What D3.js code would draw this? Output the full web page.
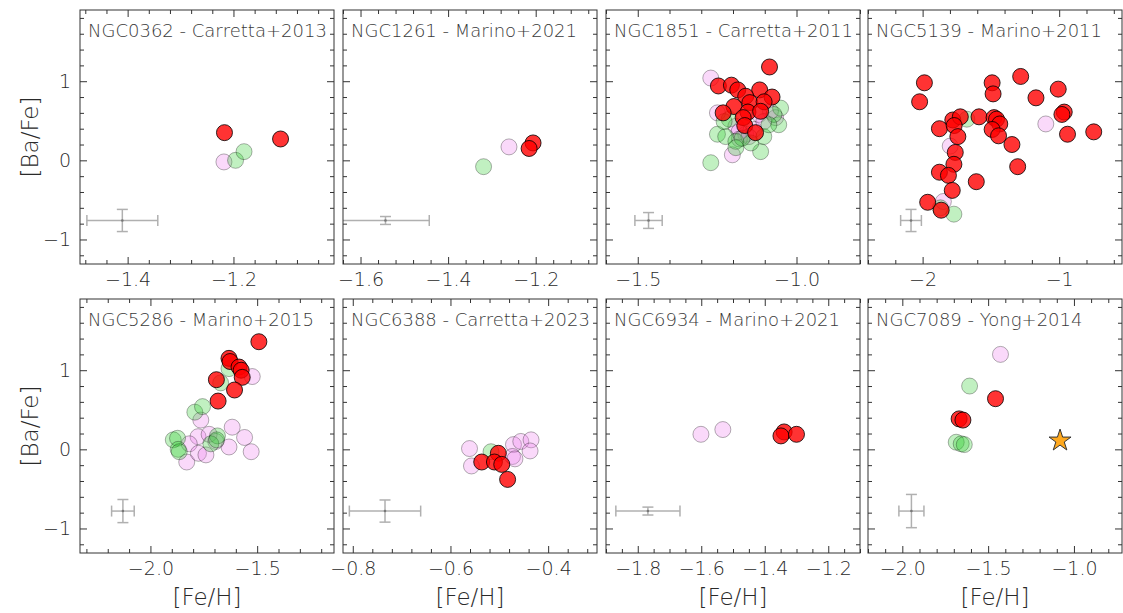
<!DOCTYPE html>
<html>
<head>
<meta charset="utf-8">
<script src="https://cdn.jsdelivr.net/npm/d3@7"></script>
<style>
  body { margin: 0; background: #fff; }
  svg { font-family: "DejaVu Sans", sans-serif; }
</style>
</head>
<body>
<svg id="chart" width="1123" height="613"></svg>
<script>
// panel titles
const titles = ["NGC0362 - Carretta+2013", "NGC1261 - Marino+2021", "NGC1851 - Carretta+2011", "NGC5139 - Marino+2011",
                "NGC5286 - Marino+2015", "NGC6388 - Carretta+2023", "NGC6934 - Marino+2021", "NGC7089 - Yong+2014"];

// x limits, major / minor steps, label decimals per panel
const xLimits = [[-1.49, -1.01], [-1.64, -1.06], [-1.60, -0.80], [-2.40, -0.54],
                 [-2.33, -1.14], [-0.82, -0.30], [-1.90, -1.10], [-2.20, -0.72]];
const xMajor = [0.2, 0.2, 0.5, 1, 0.5, 0.2, 0.2, 0.5];
const xMinor = [0.04, 0.04, 0.1, 0.2, 0.1, 0.04, 0.05, 0.1];
const xDecimals = [1, 1, 1, 0, 1, 1, 1, 1];

// typical error bar per panel: [x, y, xerr, yerr]
const errBars = [[-1.41, -0.76, 0.067, 0.14], [-1.543, -0.76, 0.10, 0.05], [-1.466, -0.76, 0.043, 0.10], [-2.085, -0.76, 0.076, 0.14],
                 [-2.129, -0.78, 0.053, 0.146], [-0.734, -0.78, 0.073, 0.14], [-1.768, -0.78, 0.101, 0.05], [-1.947, -0.78, 0.073, 0.21]];

// [Fe/H], [Ba/Fe] per population
const pinkPts = [
  [[-1.218, -0.02]],
  [[-1.261, 0.17]],
  [[-1.270, 1.04], [-1.249, 0.60], [-1.202, 0.07], [-1.160, 0.33], [-1.066, 0.54], [-1.082, 0.62], [-1.191, 0.43],
   [-1.134, 0.39], [-1.181, 0.36], [-1.118, 0.58], [-1.103, 0.49], [-1.180, 0.27], [-1.150, 0.30]],
  [[-1.098, 0.46], [-1.798, 0.18], [-1.848, -0.52]],
  [[-1.523, 0.92], [-1.764, 0.37], [-1.617, 0.28], [-1.559, 0.15], [-1.528, -0.03], [-1.632, 0.03], [-1.777, 0.16],
   [-1.818, 0.07], [-1.830, -0.16], [-1.775, -0.05], [-1.740, -0.07], [-1.725, 0.19], [-1.694, 0.10]],
  [[-0.561, 0.01], [-0.557, -0.21], [-0.471, 0.06], [-0.456, 0.10], [-0.435, 0.12], [-0.437, -0.02], [-0.473, -0.09], [-0.468, -0.12]],
  [[-1.601, 0.19], [-1.532, 0.25]],
  [[-1.428, 1.20]]
];
const greenPts = [
  [[-1.196, 0.00], [-1.180, 0.11]],
  [[-1.319, -0.08]],
  [[-1.270, -0.03], [-1.249, 0.33], [-1.113, 0.11], [-1.056, 0.45], [-1.050, 0.66], [-1.223, 0.30], [-1.191, 0.24],
   [-1.212, 0.52], [-1.103, 0.30], [-1.144, 0.22], [-1.171, 0.28], [-1.191, 0.16], [-1.071, 0.58], [-1.087, 0.45], [-1.228, 0.49]],
  [[-1.676, 0.52], [-1.771, -0.68], [-1.870, -0.60]],
  [[-1.632, 1.02], [-1.671, 0.84], [-1.792, 0.47], [-1.756, 0.54], [-1.893, 0.12], [-1.873, 0.14], [-1.870, 0.00],
   [-1.865, -0.03], [-1.686, 0.17], [-1.717, 0.07], [-1.690, 0.12]],
  [[-0.517, -0.03]],
  [],
  [[-1.608, 0.80], [-1.686, 0.09], [-1.657, 0.07], [-1.639, 0.06]]
];
const redPts = [
  [[-1.217, 0.35], [-1.111, 0.27]],
  [[-1.206, 0.22], [-1.215, 0.15]],
  [[-1.085, 1.18], [-1.246, 0.94], [-1.205, 0.95], [-1.185, 0.89], [-1.116, 0.89], [-1.077, 0.80], [-1.160, 0.81],
   [-1.147, 0.73], [-1.102, 0.74], [-1.197, 0.68], [-1.231, 0.60], [-1.153, 0.61], [-1.113, 0.62], [-1.168, 0.54],
   [-1.163, 0.44], [-1.129, 0.35]],
  [[-1.987, 0.98], [-2.022, 0.74], [-1.491, 0.98], [-1.484, 0.84], [-1.282, 1.06], [-1.007, 0.90], [-1.170, 0.79],
   [-0.963, 0.61], [-0.980, 0.58], [-0.939, 0.33], [-0.747, 0.36], [-1.587, 0.55], [-1.477, 0.54], [-1.459, 0.52],
   [-1.435, 0.46], [-1.491, 0.39], [-1.444, 0.31], [-1.346, 0.20], [-1.304, -0.08], [-1.607, -0.27], [-1.877, 0.40],
   [-1.779, 0.51], [-1.724, 0.55], [-1.769, 0.44], [-1.742, 0.30], [-1.761, 0.10], [-1.771, -0.05], [-1.877, -0.15],
   [-1.811, -0.19], [-1.783, -0.38], [-1.963, -0.53], [-1.864, -0.63]],
  [[-1.492, 1.36], [-1.632, 1.15], [-1.627, 1.11], [-1.585, 1.04], [-1.575, 1.00], [-1.570, 0.91], [-1.691, 0.88],
   [-1.606, 0.75], [-1.683, 0.61]],
  [[-0.536, -0.16], [-0.502, -0.05], [-0.510, -0.16], [-0.495, -0.19], [-0.483, -0.38]],
  [[-1.339, 0.22], [-1.349, 0.17], [-1.300, 0.19]],
  [[-1.457, 0.64], [-1.669, 0.385], [-1.647, 0.37]]
];
// star marker (panel 8 only)
const starPts = [[], [], [], [], [], [], [], [[-1.081, 0.11]]];

const yLimits = [-1.31, 1.9];
const yTicks = [-1, 0, 1];

const svg = d3.select("#chart");
const colLeft = [80, 343, 606, 868];
const rowTop = [10, 299];
const pw = 254, ph = 254;
const fmtMinus = (dec) => (d) => d3.format("." + dec + "f")(d);

const stepTicks = (lo, hi, step) => {
  const out = [];
  for (let k = Math.ceil(lo / step - 1e-9); k <= Math.floor(hi / step + 1e-9); k++) out.push(+(k * step).toFixed(6));
  return out;
};

const defs = svg.append("defs");

titles.forEach((title, i) => {
  const col = i % 4, row = Math.floor(i / 4);
  const g = svg.append("g").attr("transform", "translate(" + colLeft[col] + "," + rowTop[row] + ")");

  const x = d3.scaleLinear().domain(xLimits[i]).range([0, pw]);
  const y = d3.scaleLinear().domain(yLimits).range([ph, 0]);

  defs.append("clipPath").attr("id", "clip" + i)
    .append("rect").attr("width", pw).attr("height", ph);

  const majors = stepTicks(xLimits[i][0], xLimits[i][1], xMajor[i]);
  const minors = stepTicks(xLimits[i][0], xLimits[i][1], xMinor[i]).filter(v => !majors.some(m => Math.abs(m - v) < 1e-6));
  const yMinors = stepTicks(yLimits[0], yLimits[1], 0.2).filter(v => !yTicks.some(m => Math.abs(m - v) < 1e-6));

  // axes: inward ticks on all four sides
  const axes = [
    [d3.axisBottom(x).tickValues(majors).tickSizeInner(-7).tickSizeOuter(0).tickPadding(9).tickFormat(fmtMinus(xDecimals[i])), "translate(0," + ph + ")"],
    [d3.axisBottom(x).tickValues(minors).tickSizeInner(-4).tickSizeOuter(0).tickFormat(""), "translate(0," + ph + ")"],
    [d3.axisTop(x).tickValues(majors).tickSizeInner(-7).tickSizeOuter(0).tickFormat(""), null],
    [d3.axisTop(x).tickValues(minors).tickSizeInner(-4).tickSizeOuter(0).tickFormat(""), null],
    [d3.axisRight(y).tickValues(yTicks).tickSizeInner(-7).tickSizeOuter(0).tickFormat(""), "translate(" + pw + ",0)"],
    [d3.axisRight(y).tickValues(yMinors).tickSizeInner(-4).tickSizeOuter(0).tickFormat(""), "translate(" + pw + ",0)"],
    [d3.axisLeft(y).tickValues(yTicks).tickSizeInner(-7).tickSizeOuter(0).tickPadding(9).tickFormat(col === 0 ? fmtMinus(0) : ""), null],
    [d3.axisLeft(y).tickValues(yMinors).tickSizeInner(-4).tickSizeOuter(0).tickFormat(""), null]
  ];
  axes.forEach(([ax, tr]) => {
    const a = g.append("g").call(ax);
    if (tr) a.attr("transform", tr);
    a.select(".domain").remove();
    a.selectAll(".tick line").attr("stroke", "#333").attr("stroke-width", 1);
    a.selectAll(".tick text").attr("font-size", 19).attr("font-family", "DejaVu Sans")
      .attr("font-weight", 300).attr("fill", "#2a2a2a");
  });

  const plot = g.append("g").attr("clip-path", "url(#clip" + i + ")");

  // typical error bar
  const [ex, ey, exr, eyr] = errBars[i];
  const eb = plot.append("g").attr("stroke", "#b0b0b0").attr("stroke-width", 1.5).attr("fill", "none");
  eb.append("line").attr("x1", x(ex - exr)).attr("x2", x(ex + exr)).attr("y1", y(ey)).attr("y2", y(ey));
  eb.append("line").attr("x1", x(ex)).attr("x2", x(ex)).attr("y1", y(ey - eyr)).attr("y2", y(ey + eyr));
  [ex - exr, ex + exr].forEach(v => eb.append("line").attr("x1", x(v)).attr("x2", x(v)).attr("y1", y(ey) - 5.5).attr("y2", y(ey) + 5.5));
  [ey - eyr, ey + eyr].forEach(v => eb.append("line").attr("x1", x(ex) - 5.5).attr("x2", x(ex) + 5.5).attr("y1", y(v)).attr("y2", y(v)));
  plot.append("circle").attr("cx", x(ex)).attr("cy", y(ey)).attr("r", 1.3).attr("fill", "#777");

  const drawPts = (pts, fill, op, stroke) => {
    plot.selectAll(null).data(pts).enter().append("circle")
      .attr("cx", d => x(d[0])).attr("cy", d => y(d[1])).attr("r", 8)
      .attr("fill", fill).attr("fill-opacity", op)
      .attr("stroke", stroke).attr("stroke-opacity", op).attr("stroke-width", 1);
  };
  drawPts(pinkPts[i], "violet", 0.3, "#000");
  drawPts(greenPts[i], "limegreen", 0.3, "#000");
  drawPts(redPts[i], "red", 0.8, "#000");

  const star = d3.symbol().type(d3.symbolStar).size(150);
  plot.selectAll(null).data(starPts[i]).enter().append("path")
    .attr("d", star)
    .attr("transform", d => "translate(" + x(d[0]) + "," + y(d[1]) + ")")
    .attr("fill", "#ffa91f").attr("stroke", "#333").attr("stroke-width", 1);

  // frame
  g.append("rect").attr("width", pw).attr("height", ph)
    .attr("fill", "none").attr("stroke", "#333").attr("stroke-width", 1);

  // panel title
  g.append("text").attr("x", 8).attr("y", 27)
    .attr("font-size", 18).attr("font-weight", 300).attr("fill", "#3a3a3a")
    .text(title);

  if (col === 0) {
    g.append("text")
      .attr("transform", "translate(" + (-50) + "," + (ph / 2) + ") rotate(-90)")
      .attr("text-anchor", "middle").attr("dy", "0.35em")
      .attr("font-size", 23).attr("font-weight", 300).attr("fill", "#2a2a2a")
      .text("[Ba/Fe]");
  }
  if (row === 1) {
    g.append("text")
      .attr("x", pw / 2).attr("y", ph + 52)
      .attr("text-anchor", "middle")
      .attr("font-size", 23).attr("font-weight", 300).attr("fill", "#2a2a2a")
      .text("[Fe/H]");
  }
});
</script>
</body>
</html>
